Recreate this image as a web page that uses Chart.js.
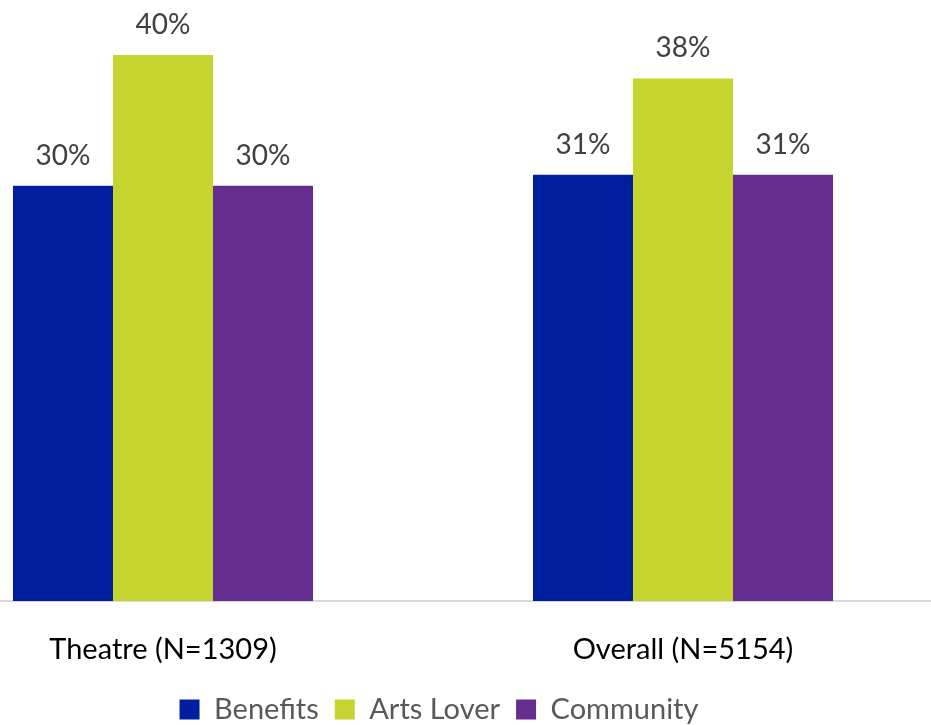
<!DOCTYPE html>
<html>
<head>
<meta charset="utf-8">
<script src="https://cdn.jsdelivr.net/npm/chart.js@4"></script>
<style>
  html, body { margin: 0; padding: 0; background: #fff; overflow: hidden; }
  #wrap { position: absolute; left: -97px; top: 0; width: 1072px; height: 734px; }
</style>
</head>
<body>
<div id="wrap"><canvas id="chart" width="1072" height="734"></canvas></div>
<script>
// chart values
const categories = ['Theatre (N=1309)', 'Overall (N=5154)'];
const seriesNames = ['Benefits', 'Arts Lover', 'Community'];
const benefits = [0.302, 0.31];
const artsLover = [0.397, 0.38];
const community = [0.302, 0.31];
const colors = ['#001F9E', '#C5D42E', '#662D91'];

// draws the % labels above each bar
const barLabels = {
  id: 'barLabels',
  afterDatasetsDraw(chart) {
    const ctx = chart.ctx;
    ctx.save();
    ctx.font = '28px Lato';
    ctx.fillStyle = '#404040';
    ctx.textAlign = 'center';
    ctx.textBaseline = 'middle';
    chart.data.datasets.forEach((ds, i) => {
      const meta = chart.getDatasetMeta(i);
      meta.data.forEach((bar, j) => {
        ctx.fillText(Math.round(ds.data[j] * 100) + '%', bar.x, bar.y - 30);
      });
    });
    ctx.restore();
  }
};

const ctx = document.getElementById('chart').getContext('2d');
const chart = new Chart(ctx, {
  type: 'bar',
  data: {
    labels: categories,
    datasets: [
      { label: seriesNames[0], data: benefits, backgroundColor: colors[0] },
      { label: seriesNames[1], data: artsLover, backgroundColor: colors[1] },
      { label: seriesNames[2], data: community, backgroundColor: colors[2] }
    ]
  },
  options: {
    responsive: false,
    animation: false,
    layout: { padding: 0 },
    datasets: {
      bar: { barPercentage: 1, categoryPercentage: 0.577 }
    },
    scales: {
      x: {
        grid: { display: false, drawTicks: false },
        border: { display: true, color: '#D9D9D9', width: 2 },
        ticks: { font: { family: 'Lato', size: 29 }, color: '#000', padding: 31 },
        afterFit(scale) { scale.height = 78; }
      },
      y: {
        position: 'right',
        min: 0,
        max: 0.437,
        grid: { display: false, drawTicks: false },
        border: { display: false },
        ticks: { display: false },
        afterFit(scale) { scale.width = 32; }
      }
    },
    plugins: {
      legend: {
        position: 'bottom',
        labels: {
          boxWidth: 20,
          boxHeight: 20,
          padding: 16,
          color: '#595959',
          font: { family: 'Lato', size: 29 }
        }
      },
      tooltip: { enabled: false }
    }
  },
  plugins: [barLabels]
});
</script>
</body>
</html>
